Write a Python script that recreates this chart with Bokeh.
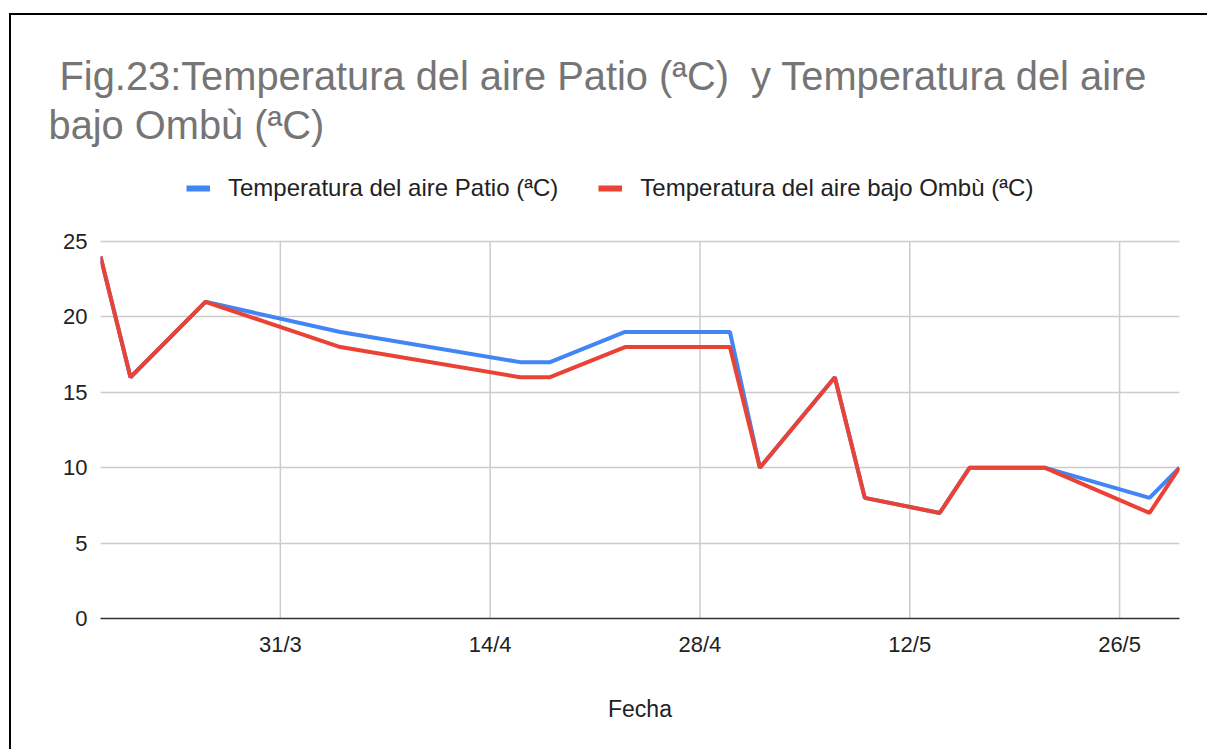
import pandas as pd
from bokeh.plotting import figure
from bokeh.models import Range1d, FixedTicker, Legend, LegendItem, Title
from bokeh.embed import file_html
from bokeh.resources import INLINE

# ---------------- data ----------------
ANIO = 2022
fechas = ["19/3", "21/3", "26/3", "4/4", "16/4", "18/4", "23/4", "30/4",
          "2/5", "7/5", "9/5", "14/5", "16/5", "21/5", "28/5", "30/5"]
temp_patio = [24, 16, 21, 19, 17, 17, 19, 19, 10, 16, 8, 7, 10, 10, 8, 10]
temp_ombu = [24, 16, 21, 18, 16, 16, 18, 18, 10, 16, 8, 7, 10, 10, 7, 10]
etiquetas_x = ["31/3", "14/4", "28/4", "12/5", "26/5"]
ticks_y = [0, 5, 10, 15, 20, 25]

titulo_1 = " Fig.23:Temperatura del aire Patio (ªC)  y Temperatura del aire"
titulo_2 = "bajo Ombù (ªC)"
serie_1 = "Temperatura del aire Patio (ªC)"
serie_2 = "Temperatura del aire bajo Ombù (ªC)"
eje_x = "Fecha"

AZUL = "#4285F4"
ROJO = "#EA4335"
FONT = "Liberation Sans"
NBSP = "\u00a0"


def to_dt(s):
    return pd.to_datetime(f"{s}/{ANIO}", format="%d/%m/%Y")


def keep_spaces(s):
    # keep leading / doubled spaces visible in SVG
    out = []
    for i, ch in enumerate(s):
        if ch == " " and (i == 0 or s[i - 1] in (" ", NBSP)):
            out.append(NBSP)
        else:
            out.append(ch)
    return "".join(out)


x = [to_dt(f) for f in fechas]
tick_dt = [to_dt(t) for t in etiquetas_x]
tick_ms = [t.value / 1e6 for t in tick_dt]

# ---------------- geometry ----------------
W, H = 1198, 736
TOP, BOTTOM, LEFT, RIGHT = 145, 133, 89, 30
PX_25 = 377                       # pixels spanned by 0..25
frame_h = H - TOP - BOTTOM
y_max = ticks_y[-1]
y_end = y_max * frame_h / PX_25   # room above 25 for the legend

p = figure(width=W, height=H, x_axis_type="datetime", output_backend="svg",
           toolbar_location=None, title=None,
           x_range=Range1d(x[0], x[-1]), y_range=Range1d(0, y_end),
           min_border_left=LEFT, min_border_right=RIGHT,
           min_border_top=TOP, min_border_bottom=BOTTOM)
p.styles = {"margin-top": "13px", "margin-left": "9px",
            "border-top": "2px solid #000", "border-left": "2px solid #000"}
p.outline_line_color = None
p.background_fill_color = "white"
p.border_fill_color = "white"

# vertical grid lines (only up to the top tick)
p.segment(x0=tick_dt, y0=[0] * len(tick_dt), x1=tick_dt, y1=[y_max] * len(tick_dt),
          line_color="#cccccc", line_width=1.5)

p.line(x, temp_patio, line_color=AZUL, line_width=4)
p.line(x, temp_ombu, line_color=ROJO, line_width=4)

# legend (swatches via renderers that draw nothing)
nan = float("nan")
r1 = p.line([x[0]], [nan], line_color=AZUL, line_width=6)
r2 = p.line([x[0]], [nan], line_color=ROJO, line_width=6)
legend = Legend(items=[LegendItem(label=serie_1, renderers=[r1]),
                       LegendItem(label=serie_2, renderers=[r2])],
                location=(86, 416), orientation="horizontal",
                padding=0, margin=0, spacing=40, label_standoff=18,
                glyph_width=24, glyph_height=24, label_height=24,
                label_text_font=FONT, label_text_font_size="24px",
                label_text_color="#222222",
                background_fill_alpha=0, border_line_color=None)
p.add_layout(legend)

# title (two lines)
titulo = Title(text=keep_spaces(titulo_1) + "\n" + titulo_2, align="left", offset=-52,
               text_font=FONT, text_font_size="39.8px", text_font_style="normal",
               text_color="#757575", text_line_height=1.13, standoff=26)
p.add_layout(titulo, "above")

# axes
xt = FixedTicker(ticks=tick_ms)
yt = FixedTicker(ticks=ticks_y)
p.xaxis.ticker = xt
p.yaxis.ticker = yt
p.ygrid.ticker = yt
p.xgrid.visible = False
p.xaxis.major_label_overrides = dict(zip(tick_ms, etiquetas_x))

for ax in (p.xaxis, p.yaxis):
    ax.major_tick_line_color = None
    ax.minor_tick_line_color = None
    ax.major_tick_out = 0
    ax.major_tick_in = 0
    ax.major_label_standoff = 13
    ax.major_label_text_font = FONT
    ax.major_label_text_font_size = "22px"
    ax.major_label_text_color = "#222222"
p.yaxis.axis_line_color = None
p.xaxis.axis_line_color = "#333333"
p.xaxis.axis_line_width = 1.5
p.xaxis.axis_label = eje_x
p.xaxis.axis_label_text_font = FONT
p.xaxis.axis_label_text_font_size = "23px"
p.xaxis.axis_label_text_font_style = "normal"
p.xaxis.axis_label_text_color = "#222222"
p.xaxis.axis_label_standoff = 36

p.ygrid.grid_line_color = "#cccccc"
p.ygrid.grid_line_width = 1.5

open("out.html", "w").write(file_html(p, INLINE))
